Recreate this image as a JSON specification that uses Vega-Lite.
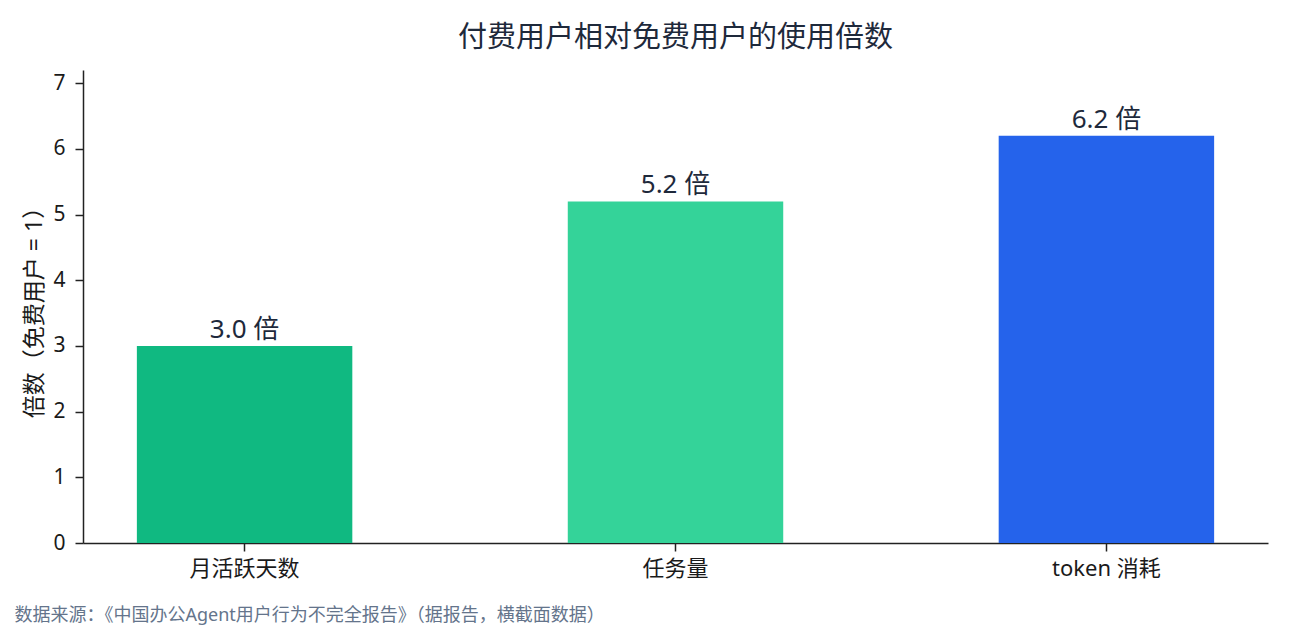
{
  "$schema": "https://vega.github.io/schema/vega-lite/v6.json",
  "width": 1185,
  "height": 473,
  "autosize": "none",
  "padding": {"left": 83, "top": 70, "right": 22, "bottom": 87},
  "background": "white",
  "config": {
    "view": {"stroke": null},
    "font": "Noto Sans, Noto Sans CJK SC"
  },
  "title": {
    "text": "付费用户相对免费用户的使用倍数",
    "fontSize": 29,
    "fontWeight": "normal",
    "color": "#1e293b",
    "anchor": "middle",
    "offset": 17
  },
  "data": {
    "values": [
      {"metric": "月活跃天数", "ratio": 3.0, "label": "3.0 倍"},
      {"metric": "任务量", "ratio": 5.2, "label": "5.2 倍"},
      {"metric": "token 消耗", "ratio": 6.2, "label": "6.2 倍"}
    ]
  },
  "encoding": {
    "x": {
      "field": "metric",
      "type": "nominal",
      "sort": null,
      "scale": {"paddingInner": 0.5, "paddingOuter": 0.125},
      "axis": {
        "title": "数据来源：《中国办公Agent用户行为不完全报告》（据报告，横截面数据）",
        "titleAnchor": "start",
        "titleAlign": "left",
        "titleX": -69,
        "titleY": 72,
        "titleFontSize": 18,
        "titleFontWeight": "normal",
        "titleColor": "#64748b",
        "titleBaseline": "middle",
        "labelAngle": 0,
        "labelFontSize": 22,
        "labelColor": "#1a1a1a",
        "labelPadding": 7,
        "domainColor": "#222222",
        "domainWidth": 1.5,
        "tickColor": "#222222",
        "tickSize": 8,
        "tickWidth": 1.5,
        "grid": false
      }
    },
    "y": {
      "field": "ratio",
      "type": "quantitative",
      "scale": {"domain": [0, 7.2], "nice": false},
      "axis": {
        "title": "倍数（免费用户 = 1）",
        "titleFontSize": 23,
        "titleFontWeight": "normal",
        "titleColor": "#1a1a1a",
        "titlePadding": 6,
        "values": [0, 1, 2, 3, 4, 5, 6, 7],
        "labelFontSize": 21,
        "labelColor": "#1a1a1a",
        "labelPadding": 10,
        "domainColor": "#222222",
        "domainWidth": 1.5,
        "tickColor": "#222222",
        "tickSize": 8,
        "tickWidth": 1.5,
        "grid": false
      }
    }
  },
  "layer": [
    {
      "mark": {"type": "bar"},
      "encoding": {
        "color": {
          "field": "metric",
          "type": "nominal",
          "sort": null,
          "scale": {"range": ["#10b981", "#34d399", "#2563eb"]},
          "legend": null
        }
      }
    },
    {
      "mark": {"type": "text", "baseline": "alphabetic", "dy": -8, "fontSize": 26, "color": "#1e293b"},
      "encoding": {
        "text": {"field": "label", "type": "nominal"}
      }
    }
  ]
}
